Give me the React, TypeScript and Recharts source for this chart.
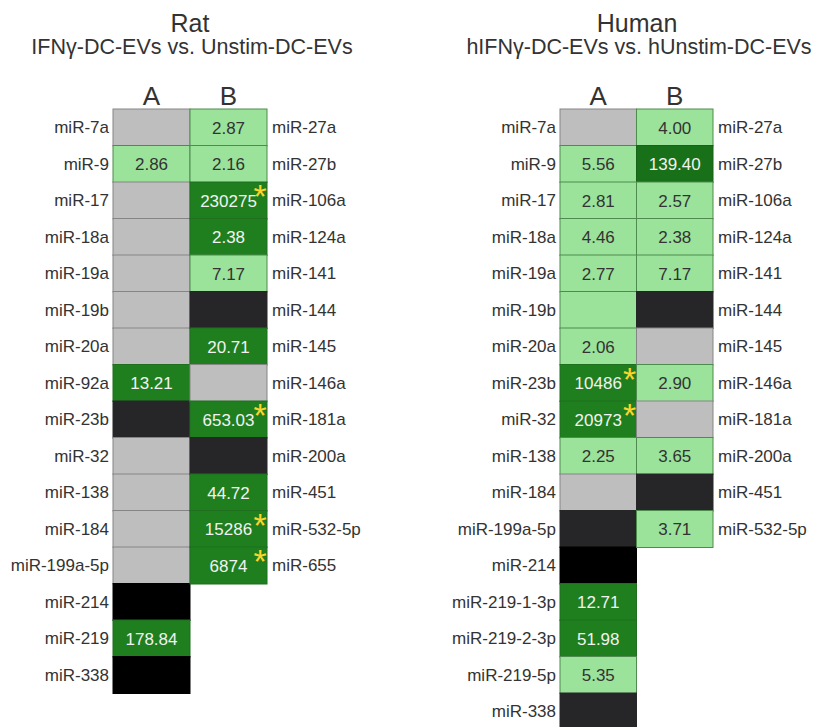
import { BarChart, Bar, XAxis, YAxis } from 'recharts';

// status codes: L light green, D dark green, E darker green, G grey, K charcoal, B black
const ratLabelsA = ['miR-7a', 'miR-9', 'miR-17', 'miR-18a', 'miR-19a', 'miR-19b', 'miR-20a', 'miR-92a', 'miR-23b', 'miR-32', 'miR-138', 'miR-184', 'miR-199a-5p', 'miR-214', 'miR-219', 'miR-338'];
const ratStatusA = ['G', 'L', 'G', 'G', 'G', 'G', 'G', 'D', 'K', 'G', 'G', 'G', 'G', 'B', 'D', 'B'];
const ratValuesA = [null, 2.86, null, null, null, null, null, 13.21, null, null, null, null, null, null, 178.84, null];
const ratStarA: string[] = [];
const ratLabelsB = ['miR-27a', 'miR-27b', 'miR-106a', 'miR-124a', 'miR-141', 'miR-144', 'miR-145', 'miR-146a', 'miR-181a', 'miR-200a', 'miR-451', 'miR-532-5p', 'miR-655'];
const ratStatusB = ['L', 'L', 'D', 'D', 'L', 'K', 'D', 'G', 'D', 'K', 'D', 'D', 'D'];
const ratValuesB = [2.87, 2.16, 230275, 2.38, 7.17, null, 20.71, null, 653.03, null, 44.72, 15286, 6874];
const ratStarB = ['miR-106a', 'miR-181a', 'miR-532-5p', 'miR-655'];

const humLabelsA = ['miR-7a', 'miR-9', 'miR-17', 'miR-18a', 'miR-19a', 'miR-19b', 'miR-20a', 'miR-23b', 'miR-32', 'miR-138', 'miR-184', 'miR-199a-5p', 'miR-214', 'miR-219-1-3p', 'miR-219-2-3p', 'miR-219-5p', 'miR-338'];
const humStatusA = ['G', 'L', 'L', 'L', 'L', 'L', 'L', 'D', 'D', 'L', 'G', 'K', 'B', 'D', 'D', 'L', 'K'];
const humValuesA = [null, 5.56, 2.81, 4.46, 2.77, null, 2.06, 10486, 20973, 2.25, null, null, null, 12.71, 51.98, 5.35, null];
const humStarA = ['miR-23b', 'miR-32'];
const humLabelsB = ['miR-27a', 'miR-27b', 'miR-106a', 'miR-124a', 'miR-141', 'miR-144', 'miR-145', 'miR-146a', 'miR-181a', 'miR-200a', 'miR-451', 'miR-532-5p'];
const humStatusB = ['L', 'E', 'L', 'L', 'L', 'K', 'G', 'L', 'G', 'L', 'K', 'L'];
const humValuesB = [4.0, 139.4, 2.57, 2.38, 7.17, null, null, 2.9, null, 3.65, null, 3.71];
const humStarB: string[] = [];

const columns = ['A', 'B'];

const FILL: Record<string, string> = { L: '#9be29b', D: '#1f7f1f', E: '#187118', G: '#bebebe', K: '#262628', B: '#000000' };
const STROKE: Record<string, string> = { L: '#4f8a4f', D: '#1f6f1f', E: '#186118', G: '#858585', K: '#262628', B: '#000000' };
const FONT = '"Liberation Sans", Arial, sans-serif';

const fmt = (v: number) => (v >= 1000 ? String(v) : v.toFixed(2));

const makeShape = (col: 'A' | 'B') => (props: any) => {
  const { x, y, width, height, payload } = props;
  if (!width || !height || !payload) return null;
  const s = payload['s' + col];
  const v = payload['v' + col];
  const star = payload['star' + col];
  if (!s) return null;
  return (
    <g>
      <rect x={x} y={y} width={width} height={height} fill={FILL[s]} stroke={STROKE[s]} strokeWidth={1} />
      {v != null && (
        <text x={x + width / 2} y={y + height / 2} dy="0.36em" textAnchor="middle" fontSize={17} fontFamily={FONT} fill={s === 'L' ? '#333' : '#f2f2f2'}>
          {fmt(v)}
        </text>
      )}
      {star && (
        <text x={x + width - 7} y={y + 26} textAnchor="middle" fontSize={34} fontFamily={FONT} fill="#ffd42a">*</text>
      )}
    </g>
  );
};

function Panel(p: any) {
  const rows = p.labelsA.map((name: string, i: number) => ({
    name,
    a: 1,
    b: i < p.labelsB.length ? 1 : 0,
    nameB: p.labelsB[i] ?? '',
    sA: p.statusA[i],
    vA: p.valuesA[i],
    starA: p.starA.includes(name),
    sB: p.statusB[i],
    vB: p.valuesB[i],
    starB: p.starB.includes(p.labelsB[i]),
  }));
  const tick = { fontSize: 17, fill: '#333', fontFamily: FONT };
  return (
    <BarChart
      width={p.width}
      height={p.height}
      data={rows}
      layout="vertical"
      barCategoryGap={0}
      margin={{ top: 79, right: p.marginRight, bottom: p.height - 109 - rows.length * 36.5, left: 0 }}
    >
      <XAxis
        type="number"
        orientation="top"
        domain={[0, 2]}
        ticks={[0.5, 1.5]}
        tickFormatter={(v: number) => columns[Math.floor(v)]}
        axisLine={false}
        tickLine={false}
        tickSize={0}
        tickMargin={4}
        height={30}
        tick={{ fontSize: 26, fill: '#333', fontFamily: FONT }}
      />
      <YAxis yAxisId="left" type="category" dataKey="name" width={p.leftW} axisLine={false} tickLine={false} tickSize={0} tickMargin={4} interval={0} tick={tick} />
      <YAxis
        yAxisId="right"
        orientation="right"
        type="category"
        dataKey="name"
        width={p.rightW}
        axisLine={false}
        tickLine={false}
        tickSize={0}
        tickMargin={5}
        interval={0}
        tickFormatter={(_v: string, i: number) => rows[i]?.nameB ?? ''}
        tick={tick}
      />
      <Bar yAxisId="left" dataKey="a" stackId="s" isAnimationActive={false} shape={makeShape('A')} />
      <Bar yAxisId="left" dataKey="b" stackId="s" isAnimationActive={false} shape={makeShape('B')} />
    </BarChart>
  );
}

const titleStyle = (left: number, top: number, size: number, lh: number): any => ({
  position: 'absolute',
  left,
  top,
  width: 400,
  textAlign: 'center',
  fontSize: size,
  lineHeight: lh + 'px',
  color: '#333',
  fontFamily: FONT,
  whiteSpace: 'nowrap',
});

export default function App() {
  return (
    <div style={{ position: 'absolute', left: 0, top: 0, width: 813, height: 727, overflow: 'hidden', background: '#fff' }}>
      <div style={titleStyle(-10, 13, 25, 20)}>Rat</div>
      <div style={titleStyle(-8, 37.5, 21.5, 18)}>IFNγ-DC-EVs vs. Unstim-DC-EVs</div>
      <div style={titleStyle(437, 13, 25, 20)}>Human</div>
      <div style={titleStyle(439, 37.5, 21.5, 18)}>hIFNγ-DC-EVs vs. hUnstim-DC-EVs</div>
      <div style={{ position: 'absolute', left: 0, top: 0 }}>
        <Panel
          labelsA={ratLabelsA} statusA={ratStatusA} valuesA={ratValuesA} starA={ratStarA}
          labelsB={ratLabelsB} statusB={ratStatusB} valuesB={ratValuesB} starB={ratStarB}
          width={400} height={727} leftW={113} rightW={100} marginRight={33}
        />
      </div>
      <div style={{ position: 'absolute', left: 400, top: 0 }}>
        <Panel
          labelsA={humLabelsA} statusA={humStatusA} valuesA={humValuesA} starA={humStarA}
          labelsB={humLabelsB} statusB={humStatusB} valuesB={humValuesB} starB={humStarB}
          width={413} height={760} leftW={160} rightW={90} marginRight={10}
        />
      </div>
    </div>
  );
}
